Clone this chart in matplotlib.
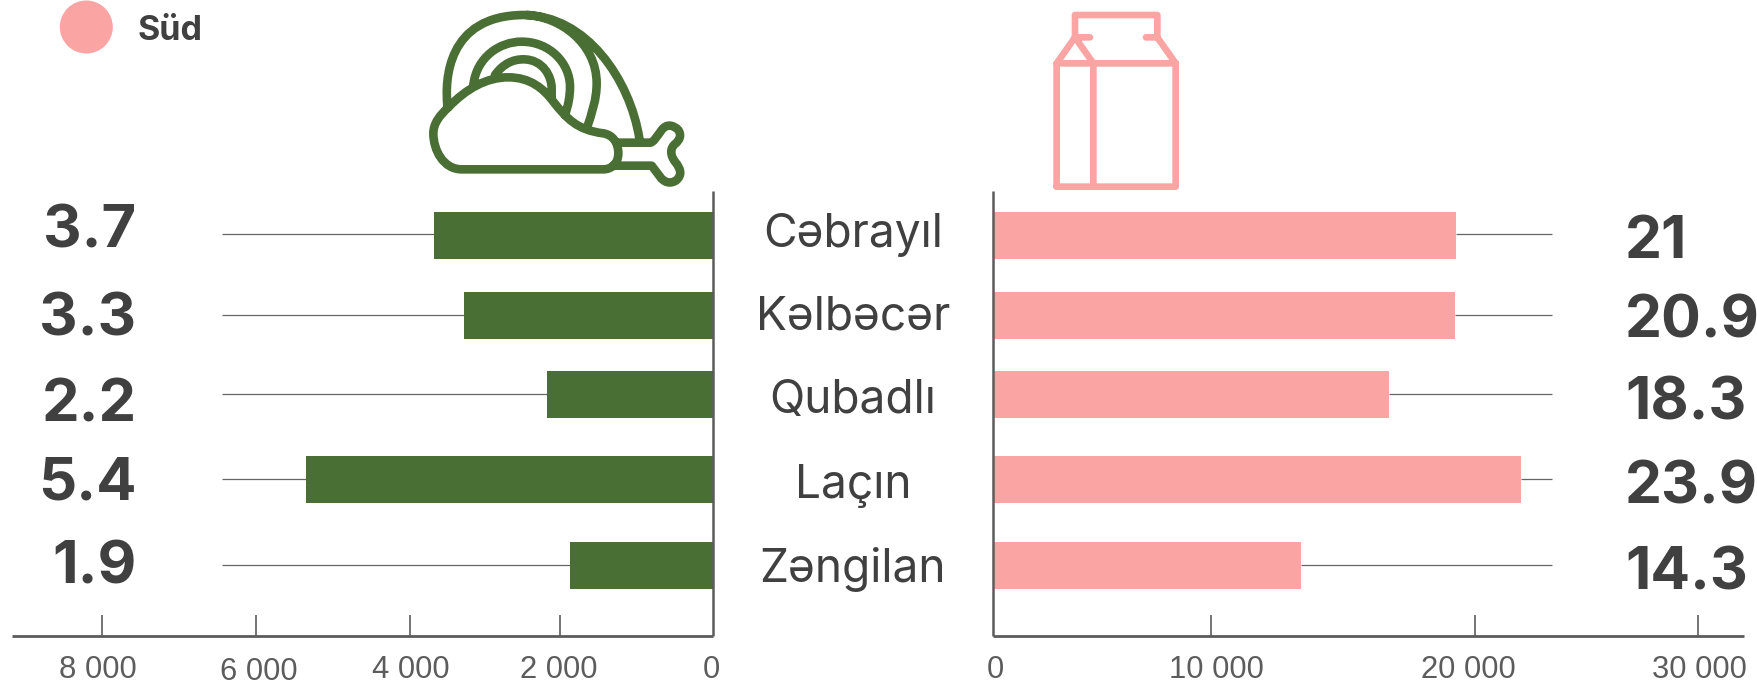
import matplotlib
matplotlib.use('Agg')
import matplotlib.pyplot as plt
from matplotlib.patches import Circle, PathPatch
from matplotlib.path import Path

# Data
regions = ['Cəbrayıl', 'Kəlbəcər', 'Qubadlı', 'Laçın', 'Zəngilan']
meat_values = [3650, 3260, 2170, 5330, 1870]
milk_values = [21020, 20960, 18000, 23980, 14000]
meat_labels = ['3.7', '3.3', '2.2', '5.4', '1.9']
milk_labels = ['21', '20.9', '18.3', '23.9', '14.3']
# the original axes are hand placed, so ticks and their labels are not evenly spaced
meat_ticks = [0, 2000, 3966, 5974, 8000]
milk_ticks = [0, 9864, 21864, 32045]
meat_tick_x = [31, 2026, 3961, 5948, 8052]
milk_tick_x = [91, 10136, 21590, 32090]
meat_tick_labels = ['0', '2 000', '4 000', '6 000', '8 000']
milk_tick_labels = ['0', '10 000', '20 000', '30 000']

GREEN = '#4a6f35'
PINK = '#faa4a4'
GREY = '#5c5c5c'
DARK = '#404040'
W, H = 1758, 683
row_y = [235, 315.5, 394.5, 479.5, 565.5]
meat_label_base = [247, 335, 421, 500, 583]
milk_label_base = [258, 338, 420, 503, 590]
region_base = [247, 329.5, 413, 498, 582]

fig = plt.figure(figsize=(W / 100, H / 100), dpi=100)
plt.rcParams['font.family'] = ['Liberation Sans', 'DejaVu Sans']


def make_axes(x0, x1):
    return fig.add_axes([x0 / W, 0, (x1 - x0) / W, 1])


# left panel, 76.5 px per 1000
ax_l = make_axes(12, 713.5)
ax_l.set_xlim(701.5 / 0.0765, 0)
# right panel, 22 px per 1000
ax_r = make_axes(993.5, 1744)
ax_r.set_xlim(0, 750.5 / 0.022)

for ax, vals, color, whisk, ticks, tick_x, labels, far in [
    (ax_l, meat_values, GREEN, 6430, meat_ticks, meat_tick_x, meat_tick_labels, 701.5 / 0.0765),
    (ax_r, milk_values, PINK, 25400, milk_ticks, milk_tick_x, milk_tick_labels, 750.5 / 0.022),
]:
    ax.set_ylim(H, 0)
    ax.patch.set_alpha(0)
    ax.hlines([y - 0.7 for y in row_y], vals, whisk, color='#666666', lw=0.9, zorder=1)
    ax.barh(row_y, vals, height=47, color=color, zorder=2)
    for s in ax.spines.values():
        s.set_visible(False)
    ax.set_yticks([])
    ax.set_xticks([])
    ax.vlines(0, 191, 636, color=GREY, lw=1.8, zorder=3, clip_on=False)
    ax.hlines(636, 0, far, color=GREY, lw=2, zorder=3, clip_on=False)
    ax.vlines(ticks[1:], 615, 636, color=GREY, lw=1.2, zorder=3)
    for t, lab in zip(tick_x, labels):
        y = 679.5 if lab == '6 000' else 678.5
        ax.text(t, y, lab, ha='center', va='baseline', fontsize=22.3, color=GREY)

# overlay in pixel coordinates for text and icons
ov = fig.add_axes([0, 0, 1, 1])
ov.set_xlim(0, W)
ov.set_ylim(H, 0)
ov.axis('off')
ov.patch.set_alpha(0)

ov.add_patch(Circle((86.3, 27), 26.5, color=PINK, lw=0))
ov.text(138, 40.5, 'Süd', fontsize=24.5, fontweight='bold', color=DARK, family='Inter', va='baseline')

for i in range(5):
    ov.text(136.5, meat_label_base[i], meat_labels[i], ha='right', va='baseline', fontsize=43,
            fontweight='bold', color=DARK, family='Inter')
    ov.text(1625, milk_label_base[i], milk_labels[i], ha='left', va='baseline', fontsize=42.4,
            fontweight='bold', color=DARK, family='Inter')
    ov.text(853, region_base[i], regions[i], ha='center', va='baseline', fontsize=33.2,
            color=DARK, family='Inter')


def icon_path(parts, x0, scale=3):
    verts, codes = [], []
    for cmd, pts in parts:
        for j, p in enumerate(pts):
            verts.append((x0 + p[0] / scale, p[1] / scale))
            if cmd == 'M':
                codes.append(Path.MOVETO)
            elif cmd == 'L':
                codes.append(Path.LINETO)
            else:
                codes.append(Path.CURVE4)
    return Path(verts, codes)


chicken = icon_path([
    # body
    ('M', [(205, 322)]),
    ('C', [(260, 265), (320, 232), (385, 232)]),
    ('C', [(450, 232), (490, 265), (520, 305)]),
    ('C', [(560, 355), (590, 390), (670, 400)]),
    ('C', [(700, 405), (715, 430), (715, 460)]),
    ('C', [(715, 490), (695, 508), (670, 508)]),
    ('L', [(245, 508)]),
    ('C', [(190, 508), (160, 450), (160, 400)]),
    ('C', [(160, 370), (180, 345), (205, 322)]),
    # outer arc
    ('M', [(202, 315)]),
    ('C', [(195, 240), (200, 47), (430, 45)]),
    ('C', [(620, 45), (750, 240), (778, 415)]),
    # second arc
    ('M', [(440, 45)]),
    ('C', [(540, 50), (650, 130), (650, 250)]),
    ('C', [(650, 300), (635, 340), (622, 380)]),
    # third arc
    ('M', [(280, 255)]),
    ('C', [(290, 170), (360, 125), (425, 125)]),
    ('C', [(510, 125), (570, 190), (570, 260)]),
    ('C', [(570, 290), (565, 315), (555, 345)]),
    # fourth arc
    ('M', [(345, 225)]),
    ('C', [(370, 190), (400, 178), (430, 178)]),
    ('C', [(490, 178), (515, 230), (515, 265)]),
    ('L', [(515, 290)]),
    # bone
    ('M', [(715, 428)]),
    ('L', [(810, 428)]),
    ('C', [(820, 428), (830, 410), (845, 390)]),
    ('C', [(860, 370), (880, 375), (895, 390)]),
    ('C', [(905, 405), (900, 420), (885, 432)]),
    ('C', [(870, 445), (870, 465), (885, 485)]),
    ('C', [(905, 510), (905, 525), (890, 540)]),
    ('C', [(870, 555), (850, 545), (840, 530)]),
    ('L', [(815, 497), (700, 497)]),
], 380)
ov.add_patch(PathPatch(chicken, fill=False, ec=GREEN, lw=6.2, capstyle='round', joinstyle='round'))

carton = icon_path([
    ('M', [(170, 560)]),
    ('L', [(170, 190), (225, 112), (225, 45), (472, 45), (472, 112), (527, 190), (527, 560), (170, 560)]),
    ('M', [(170, 190)]),
    ('L', [(527, 190)]),
    ('M', [(280, 190)]),
    ('L', [(280, 560)]),
    ('M', [(225, 112)]),
    ('L', [(280, 190)]),
    ('M', [(225, 112)]),
    ('L', [(270, 112)]),
    ('M', [(438, 112)]),
    ('L', [(472, 112)]),
], 1000)
ov.add_patch(PathPatch(carton, fill=False, ec=PINK, lw=4.8, capstyle='round', joinstyle='round'))

fig.savefig('out.png', dpi=100)
